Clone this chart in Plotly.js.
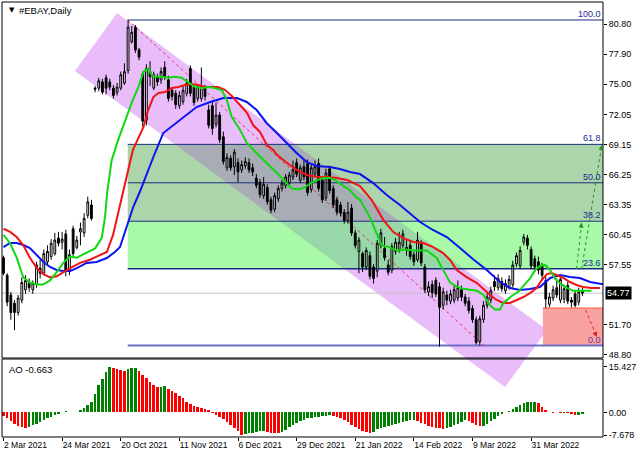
<!DOCTYPE html>
<html><head><meta charset="utf-8">
<script src="https://cdn.plot.ly/plotly-3.0.1.min.js"></script>
<style>html,body{margin:0;padding:0;background:#fff}#chart{width:640px;height:457px}</style>
</head><body><div id="chart"></div>
<script>
// ---------- DATA ----------
const dateTickIdx = [0,16,32,48,64,80,96,112,128,144];
const dateTickText = ['2 Mar 2021','24 Mar 2021','20 Oct 2021','11 Nov 2021','6 Dec 2021','29 Dec 2021','21 Jan 2022','14 Feb 2022','9 Mar 2022','31 Mar 2022'];
const priceTicks = [80.80,77.90,75.00,72.05,69.15,66.25,63.35,60.45,57.55,51.70,48.80];
const priceTickText = ['80.80','77.90','75.00','72.05','69.15','66.25','63.35','60.45','57.55','51.70','48.80'];
const aoTicks = [15.427,0,-7.678];
const aoTickText = ['15.427','0.00','-7.678'];

const open = [
58.2,56.5,54.6,53.8,52.9,54.1,55.1,55.8,55.1,55.6,
57.2,56.7,57.8,58.3,58.6,60.1,59.7,60.5,56.9,61.0,
59.2,60.7,60.6,62.3,63.3,74.6,74.6,75.2,75.6,75.2,
74.6,74.2,74.6,75.1,76.3,79.1,80.5,78.3,76.0,71.5,
76.2,74.6,75.7,75.4,76.6,75.4,74.4,74.1,72.9,73.3,
74.1,76.5,74.7,73.6,73.6,74.6,72.5,72.9,71.1,72.0,
69.9,66.9,67.8,67.0,67.4,66.7,67.1,67.4,66.9,65.9,
65.5,64.2,65.0,63.8,62.9,63.9,64.9,65.2,65.4,66.0,
67.4,65.7,67.0,67.3,64.8,66.3,67.3,65.7,64.0,66.8,
64.9,63.8,63.3,62.6,61.8,63.0,60.6,58.8,58.6,57.3,
58.4,57.3,56.9,59.4,59.1,57.5,57.0,58.8,59.0,59.4,
59.2,59.4,58.5,58.0,59.6,57.3,54.9,55.6,56.0,55.4,
53.6,54.6,54.0,54.1,54.3,55.1,54.4,54.0,53.3,52.2,
50.1,52.2,53.6,54.1,55.9,55.3,55.9,55.0,55.4,55.6,
57.6,57.4,59.7,60.1,59.0,58.1,57.8,57.4,56.0,53.7,
54.3,55.3,54.1,54.2,55.5,54.1,54.7,53.9,55.0];
const high = [
58.4,56.7,54.9,54.1,54.6,56.3,56.5,56.2,56.0,57.8,
58.0,59.0,59.4,60.0,60.6,60.7,60.7,60.9,59.0,61.3,
60.3,61.6,62.5,64.1,63.8,74.8,75.6,75.5,75.9,75.5,
74.9,75.1,76.2,77.0,81.19,80.6,80.7,78.5,76.2,76.9,
77.2,76.2,76.0,76.6,77.2,75.8,74.7,74.4,74.3,74.8,
75.5,76.8,75.0,75.0,76.6,74.9,73.0,73.3,73.2,72.3,
70.4,68.3,68.1,68.7,67.8,67.6,67.9,67.8,67.3,66.3,
65.8,66.0,65.3,64.1,64.5,65.2,65.7,66.3,66.5,67.6,
67.8,67.2,67.7,67.7,67.3,67.6,67.8,66.0,66.8,67.1,
65.2,64.1,63.6,62.9,63.6,63.4,60.9,60.2,58.8,59.2,
58.8,57.6,59.9,61.0,60.2,58.0,59.6,60.1,60.7,60.9,
59.9,59.8,58.8,60.7,59.9,57.6,55.9,56.0,56.3,55.8,
55.3,55.0,55.1,55.5,56.0,55.5,54.7,54.4,53.6,52.5,
52.6,54.0,54.8,55.4,56.5,56.6,56.3,56.1,56.5,57.9,
58.7,59.3,60.5,60.4,59.3,58.4,58.3,57.7,56.4,54.8,
55.5,56.2,56.5,55.6,55.9,54.4,55.0,55.3,55.3];
const low = [
56.5,53.5,52.2,51.2,52.6,53.8,54.7,54.9,54.7,55.3,
56.2,56.5,57.5,58.0,58.4,59.3,59.0,56.4,56.5,58.3,
59.0,59.4,60.2,62.0,61.8,74.2,74.3,74.0,74.0,74.4,
73.6,73.9,74.4,74.9,76.0,78.9,78.0,77.3,70.9,71.0,
74.8,74.4,74.8,75.0,75.4,73.3,73.4,72.6,72.6,73.0,
73.8,73.8,72.9,73.3,73.3,73.4,70.7,70.1,70.8,69.3,
67.2,66.6,66.6,66.2,65.5,66.4,66.8,66.4,66.1,64.9,
64.0,63.9,63.3,62.5,62.6,63.6,64.6,64.9,65.1,65.7,
66.0,65.4,65.7,64.2,64.5,66.0,64.6,63.5,63.7,64.4,
63.0,62.3,62.2,61.5,61.5,60.3,59.1,56.7,56.8,57.0,
56.1,55.7,56.3,59.1,57.9,56.5,56.7,58.5,58.7,59.1,
58.4,58.0,57.4,57.8,57.4,54.8,54.5,54.3,54.4,49.6,
53.2,53.6,53.7,53.8,54.0,54.0,53.5,52.8,51.9,49.8,
49.7,51.9,53.3,53.8,55.0,55.0,54.9,54.7,55.1,55.3,
57.3,57.1,59.4,59.0,57.1,56.8,56.6,56.0,53.33,53.4,
54.0,54.3,53.8,53.8,53.7,53.4,53.4,53.6,54.5];
const close = [
56.7,53.9,52.9,52.9,54.3,55.8,56.0,55.3,55.7,57.5,
56.7,58.6,58.8,59.6,59.9,59.6,60.0,57.0,58.5,58.6,
59.9,61.0,62.0,63.6,62.0,74.5,75.3,74.2,74.6,74.7,
73.9,74.7,75.9,76.2,80.5,80.0,78.3,77.6,71.4,76.5,
75.7,75.9,75.2,76.2,75.7,73.6,73.8,73.0,73.9,74.4,
75.1,74.1,73.2,74.7,74.8,73.8,71.0,70.7,72.0,69.6,
67.5,67.9,66.9,68.4,66.5,67.2,67.5,66.7,66.5,65.2,
64.3,65.3,63.6,62.8,64.2,64.9,65.4,66.0,66.2,66.7,
66.3,66.9,66.0,64.5,66.9,67.0,64.9,63.8,66.4,64.7,
63.3,62.6,62.5,61.8,62.6,60.6,59.4,59.9,57.3,58.9,
56.4,56.2,59.6,60.6,58.2,56.8,59.3,59.7,59.7,60.5,
58.9,58.3,57.8,59.9,57.7,55.1,55.4,54.8,54.7,53.4,
54.9,54.1,54.7,55.1,55.3,54.4,53.8,53.1,52.2,50.0,
52.3,53.6,54.4,55.0,55.4,56.2,55.2,55.7,56.1,57.5,
58.4,58.9,60.2,59.4,57.4,57.3,57.0,56.5,54.2,54.4,
55.1,54.6,56.1,55.2,54.0,53.9,53.6,54.9,54.77];

// Alligator-style moving averages (bar index, price)
const greenIdx = [0,1.8,3.6,5.4,7.2,9.1,10.8,12.7,14.5,16.3,18.1,20.0,22.7,25.0,26.8,27.7,28.3,29.5,31.3,33.2,35.0,36.8,38.2,39.5,40.4,41.3,43.2,45.0,46.8,48.6,50.4,52.3,54.1,55.9,57.7,59.6,60.9,62.3,64.5,66.4,69.1,71.8,74.6,77.3,78.7,80.5,82.3,83.7,85.5,87.3,89.1,90.5,92.7,94.6,96.4,97.3,100.0,101.9,103.2,105.5,107.3,110.0,112.3,115.5,118.2,120.0,121.9,123.7,125.5,127.3,129.2,131.0,132.3,132.8,134.1,135.5,136.4,137.3,138.7,140.5,142.3,143.7,145.1,146.4,147.8,149.2,150.5,151.9,153.7,155.5,157.3,160.5];
const greenVal = [60.4,59.6,58.2,56.3,55.8,55.6,55.6,56.0,56.8,57.7,58.3,58.2,58.7,59.1,60.1,62.1,64.5,67.6,69.6,71.5,73.2,74.7,76.2,76.5,75.9,75.7,75.7,75.6,75.7,75.6,75.2,74.7,74.6,74.7,74.6,74.4,73.5,71.8,70.6,69.3,68.3,67.4,66.4,65.4,64.9,64.8,65.0,65.4,65.7,65.9,65.9,65.7,65.2,64.7,64.0,63.8,62.1,60.6,59.4,59.2,58.9,59.0,58.9,58.9,58.2,57.0,55.8,55.4,55.2,55.1,55.0,54.6,53.8,53.6,53.2,53.2,53.8,54.1,54.5,54.9,55.6,56.2,57.0,57.4,57.5,57.0,56.2,55.7,55.3,55.0,55.0,55.0];
const redIdx = [0,1.8,3.6,5.4,7.2,9.1,10.9,12.7,14.5,16.3,18.2,20.9,23.6,25.4,28.2,29.9,31.8,33.6,35.3,38.2,39.5,40.9,42.3,44.1,45.9,47.7,49.5,51.4,53.2,55.0,56.8,58.6,60.5,62.6,66.5,68.1,70.0,71.9,73.6,74.7,77.4,80.1,82.8,85.6,88.3,91.0,93.8,97.3,100.5,103.7,106.4,109.1,111.9,114.6,117.3,120.0,121.9,123.7,126.4,129.2,132.8,134.6,136.4,138.2,140.1,141.9,143.7,145.5,146.9,148.3,149.6,151.0,152.8,154.6,156.4,158.2,160.5,162.8];
const redVal = [61.0,60.7,60.2,59.4,58.2,57.2,56.6,56.3,56.4,56.8,57.2,57.7,58.0,58.3,58.75,60.4,63.3,66.0,68.6,70.84,72.48,73.74,74.13,74.22,74.61,74.71,74.90,75.0,74.9,74.71,74.71,74.71,74.42,73.74,72.19,71.03,70.36,69.10,68.61,68.13,67.36,66.68,66.20,66.0,66.0,65.91,65.71,65.13,63.78,61.84,60.68,60.10,59.72,59.62,59.23,58.65,57.98,57.01,56.33,55.75,54.59,54.11,53.82,53.82,54.11,54.40,54.78,55.27,56.04,56.62,56.72,56.53,56.24,55.85,55.56,55.37,55.27,55.27];
const blueIdx = [0,1.8,3.6,5.4,7.2,9.1,10.9,12.7,14.5,16.3,18.2,20.0,22.7,25.4,28.2,30.4,31.8,33.6,35.4,37.3,39.2,40.9,43.6,46.3,49.1,52.7,56.4,60.0,63.7,66.4,69.1,71.8,74.6,77.3,80.0,82.8,85.5,89.1,91.8,94.6,97.3,100.9,104.6,108.2,113.7,117.2,121.0,124.6,128.1,131.9,135.5,138.2,141.0,143.7,146.4,149.2,151.9,154.6,157.3,160.1,162.8,166.0];
const blueVal = [59.23,59.62,59.62,59.43,59.14,58.46,57.78,57.30,57.01,56.91,56.91,57.20,57.69,57.78,58.17,58.75,59.23,61.17,63.10,64.65,66.49,67.94,70.26,71.03,71.81,72.77,73.26,73.64,73.64,73.26,72.48,71.23,70.26,69.29,68.32,67.45,67.07,66.97,66.78,66.49,66.29,65.42,64.26,63.30,61.65,60.88,60.20,59.14,58.07,57.01,55.85,55.27,55.07,55.17,55.37,56.24,56.53,56.33,56.24,55.85,55.66,55.5];

// Awesome Oscillator
const aoVal = [
-1.2,-2.0,-3.0,-4.0,-4.6,-5.0,-5.1,-4.8,-4.3,-3.8,
-3.2,-2.6,-2.0,-1.5,-1.0,-0.5,0.1,0.4,0.2,0.3,
0.2,1.0,1.6,2.4,3.5,6.4,9.2,11.5,13.6,15.427,
15.0,14.6,14.4,14.2,14.7,14.9,15.0,14.0,12.8,11.6,
10.4,9.3,8.5,8.7,8.8,8.0,7.4,6.6,5.7,4.8,
3.7,2.8,2.2,1.8,1.5,1.3,0.8,-0.3,-0.8,-1.4,
-2.2,-3.1,-4.2,-5.3,-6.2,-7.678,-7.3,-7.0,-6.8,-6.6,
-6.4,-6.3,-6.5,-6.8,-7.0,-7.1,-6.6,-5.9,-5.0,-4.2,
-3.5,-2.9,-2.4,-2.0,-1.8,-1.6,-1.4,-1.2,-1.1,-1.0,
-1.2,-1.5,-2.0,-2.6,-3.2,-4.2,-4.9,-5.5,-6.1,-6.6,
-7.0,-6.5,-5.7,-5.2,-4.8,-4.5,-4.2,-4.0,-3.7,-3.2,
-2.9,-2.6,-2.5,-3.0,-3.5,-4.0,-4.5,-4.9,-5.2,-5.4,
-5.5,-5.2,-4.9,-4.4,-3.8,-3.2,-2.6,-2.9,-3.5,-4.1,
-4.6,-4.5,-3.8,-3.0,-2.2,-1.2,-0.4,0.1,0.5,1.2,
2.0,2.6,3.1,3.4,3.5,3.6,3.1,2.0,0.9,0.3,
-0.1,0.0,-0.3,-0.2,-0.3,-0.6,-0.8,-0.7,-0.663];

// Drawn objects (data coords: bar index, price)
const fibHigh = 81.19, fibLow = 49.70, fibStartIdx = 33.9, fibEndIdx = 131.1;
const fibLevels = [100, 61.8, 50, 38.2, 23.6, 0];
const lastPrice = 54.77;
const channelCorners = [[19.51,76.25],[30.98,81.86],[148.34,51.21],[136.87,45.69]];
const redBoxStartIdx = 147.2, redBoxTop = 53.33;
const upArrow1 = [[156.4,57.13],[157.8,61.6]];
const upArrow2 = [[157.8,57.13],[163.3,69.1]];
const downArrow = [[158.9,53.14],[161.9,50.53]];

// ---------- CHART ----------
const bars = open.map((_, i) => i);
const xr = [-0.41, 163.62];
const yr = [48.50, 82.93];
const mainDom = [0.1816, 1];
const aoDom = [0, 0.1793];
const fibPrice = l => fibLow + (fibHigh - fibLow) * l / 100;

const toPX = i => (i - xr[0]) / (xr[1] - xr[0]);
const toPY = p => mainDom[0] + (p - yr[0]) / (yr[1] - yr[0]) * (mainDom[1] - mainDom[0]);

function clipPoly(poly, xmin, xmax, ymin, ymax) {
  const tests = [
    [p => p[0] >= xmin, (a, b) => { const t = (xmin - a[0]) / (b[0] - a[0]); return [xmin, a[1] + t * (b[1] - a[1])]; }],
    [p => p[0] <= xmax, (a, b) => { const t = (xmax - a[0]) / (b[0] - a[0]); return [xmax, a[1] + t * (b[1] - a[1])]; }],
    [p => p[1] >= ymin, (a, b) => { const t = (ymin - a[1]) / (b[1] - a[1]); return [a[0] + t * (b[0] - a[0]), ymin]; }],
    [p => p[1] <= ymax, (a, b) => { const t = (ymax - a[1]) / (b[1] - a[1]); return [a[0] + t * (b[0] - a[0]), ymax]; }]
  ];
  let out = poly;
  for (const [inside, inter] of tests) {
    const inp = out; out = [];
    for (let k = 0; k < inp.length; k++) {
      const cur = inp[k], prev = inp[(k + inp.length - 1) % inp.length];
      if (inside(cur)) { if (!inside(prev)) out.push(inter(prev, cur)); out.push(cur); }
      else if (inside(prev)) out.push(inter(prev, cur));
    }
  }
  return out;
}
const pathOf = pts => 'M' + pts.map(p => p[0] + ',' + p[1]).join('L') + 'Z';

const f618 = fibPrice(61.8), f382 = fibPrice(38.2), f236 = fibPrice(23.6), f0 = fibPrice(0);

const shapes = [];
shapes.push({type:'path', xref:'paper', yref:'paper', layer:'below',
  path: pathOf(channelCorners.map(c => [toPX(c[0]), toPY(c[1])])),
  fillcolor:'#e8bdf9', line:{width:0}});
shapes.push({type:'rect', xref:'x', yref:'y', layer:'below', x0:fibStartIdx, x1:xr[1], y0:f382, y1:f618, fillcolor:'#acd5ac', line:{width:0}});
shapes.push({type:'rect', xref:'x', yref:'y', layer:'below', x0:fibStartIdx, x1:xr[1], y0:f236, y1:f382, fillcolor:'#a8f9a8', line:{width:0}});
const ov1 = clipPoly(channelCorners, fibStartIdx, xr[1], f382, f618);
const ov2 = clipPoly(channelCorners, fibStartIdx, xr[1], f236, f382);
if (ov1.length > 2) shapes.push({type:'path', xref:'x', yref:'y', layer:'below', path:pathOf(ov1), fillcolor:'#a7acb5', line:{width:0}});
if (ov2.length > 2) shapes.push({type:'path', xref:'x', yref:'y', layer:'below', path:pathOf(ov2), fillcolor:'#98d7a8', line:{width:0}});
shapes.push({type:'rect', xref:'x', yref:'y', layer:'below', x0:redBoxStartIdx, x1:xr[1], y0:f0, y1:redBoxTop, fillcolor:'#f9a2a2', line:{width:0}});
shapes.push({type:'line', xref:'x', yref:'y', layer:'below', x0:redBoxStartIdx, x1:xr[1], y0:redBoxTop, y1:redBoxTop, line:{color:'#ff5a3c', width:1}});
fibLevels.forEach(l => {
  const p = fibPrice(l);
  shapes.push({type:'line', xref:'x', yref:'y', layer:'below', x0:fibStartIdx, x1:xr[1], y0:p, y1:p,
    line:{color: l === 0 ? '#6e6ec6' : '#1c2a80', width: l === 0 ? 2 : (l === 23.6 ? 1.5 : 1)}});
});
shapes.push({type:'line', xref:'x', yref:'y', layer:'below', x0:xr[0], x1:xr[1], y0:lastPrice, y1:lastPrice, line:{color:'#c4c4c4', width:1}});
shapes.push({type:'line', xref:'x', yref:'y', layer:'below', x0:fibStartIdx, x1:fibEndIdx, y0:fibHigh, y1:fibLow, line:{color:'#e8305c', width:1, dash:'3px,3px'}});
[[upArrow1,'#1c9a1c'],[upArrow2,'#1c9a1c'],[downArrow,'#e81c1c']].forEach(([a,c]) => {
  shapes.push({type:'line', xref:'x', yref:'y', x0:a[0][0], y0:a[0][1], x1:a[1][0], y1:a[1][1], line:{color:c, width:1, dash:'dot'}});
});
shapes.push({type:'rect', xref:'paper', yref:'paper', layer:'above', x0:0, x1:1, y0:mainDom[0], y1:mainDom[1], line:{color:'#000', width:1}, fillcolor:'rgba(0,0,0,0)'});
shapes.push({type:'rect', xref:'paper', yref:'paper', layer:'above', x0:0, x1:1, y0:aoDom[0], y1:aoDom[1], line:{color:'#000', width:1}, fillcolor:'rgba(0,0,0,0)'});

const annotations = [];
fibLevels.forEach(l => {
  annotations.push({xref:'paper', yref:'y', x:0.998, y:fibPrice(l), xanchor:'right', yanchor:'bottom',
    text:l.toFixed(1), showarrow:false, borderpad:0, font:{size:9, color: l === 0 ? '#5a3c96' : '#1c2a96'}});
});
annotations.push({xref:'paper', yref:'y', x:1, xshift:2, y:lastPrice, xanchor:'left', yanchor:'middle',
  text:'54.77', showarrow:false, bgcolor:'#000', borderpad:1, font:{size:9, color:'#fff'}});
annotations.push({xref:'paper', yref:'paper', x:0.008, y:0.9816, xanchor:'left', yanchor:'middle',
  text:'▼', showarrow:false, font:{family:'DejaVu Sans', size:7, color:'#000'}});
annotations.push({xref:'paper', yref:'paper', x:0.025, y:0.9816, xanchor:'left', yanchor:'middle',
  text:'#EBAY,Daily', showarrow:false, font:{size:9.5, color:'#000'}});
annotations.push({xref:'paper', yref:'paper', x:0.009, y:0.156, xanchor:'left', yanchor:'middle',
  text:'AO -0.663', showarrow:false, font:{size:9.5, color:'#000'}});
[[upArrow1,'#1c9a1c',-0.8,7],[upArrow2,'#1c9a1c',-1.1,7],[downArrow,'#e81c1c',-2.6,-6.5]].forEach(([a,c,ax,ay]) => {
  annotations.push({xref:'x', yref:'y', x:a[1][0], y:a[1][1], ax:ax, ay:ay, text:'', showarrow:true,
    arrowhead:2, arrowsize:1, arrowwidth:1, arrowcolor:c});
});

const traces = [
  {type:'candlestick', x:bars, open:open, high:high, low:low, close:close, xaxis:'x', yaxis:'y',
   increasing:{line:{color:'#000', width:1}, fillcolor:'rgba(255,255,255,0.45)'},
   decreasing:{line:{color:'#000', width:1}, fillcolor:'#000'},
   hoverinfo:'skip', showlegend:false},
  {type:'scatter', mode:'lines', x:blueIdx, y:blueVal, xaxis:'x', yaxis:'y', line:{color:'#0a14f0', width:2}, hoverinfo:'skip'},
  {type:'scatter', mode:'lines', x:redIdx, y:redVal, xaxis:'x', yaxis:'y', line:{color:'#f01414', width:2}, hoverinfo:'skip'},
  {type:'scatter', mode:'lines', x:greenIdx, y:greenVal, xaxis:'x', yaxis:'y', line:{color:'#10d810', width:2}, hoverinfo:'skip'},
  {type:'bar', x:bars, y:aoVal, xaxis:'x2', yaxis:'y2', width:0.7,
   marker:{color: aoVal.map((v, i) => (i > 0 && v > aoVal[i-1]) ? '#008000' : '#ff0000'), line:{width:0}},
   hoverinfo:'skip'}
];

const layout = {
  width:640, height:457,
  margin:{l:2, r:37, t:2, b:20, pad:0},
  paper_bgcolor:'#ffffff', plot_bgcolor:'rgba(0,0,0,0)',
  showlegend:false,
  font:{family:'Liberation Sans, Arial, sans-serif', size:9, color:'#000'},
  xaxis:{domain:[0,1], range:xr, anchor:'y', showticklabels:false, ticks:'', showgrid:false, zeroline:false, showline:false, rangeslider:{visible:false}, fixedrange:true},
  xaxis2:{domain:[0,1], range:xr, anchor:'y2', tickmode:'array', tickvals:dateTickIdx, ticktext:dateTickText, ticks:'outside', ticklen:3, tickcolor:'#000',
          tickangle:0, ticklabelposition:'outside right', showgrid:false, zeroline:false, showline:false, fixedrange:true, tickfont:{size:8.5}},
  yaxis:{domain:mainDom, range:yr, anchor:'x', side:'right', tickmode:'array', tickvals:priceTicks, ticktext:priceTickText, ticks:'outside', ticklen:3, tickcolor:'#000',
         showgrid:false, zeroline:false, showline:false, fixedrange:true, tickfont:{size:9}},
  yaxis2:{domain:aoDom, range:[-8.3, 18.1], anchor:'x2', side:'right', tickmode:'array', tickvals:aoTicks, ticktext:aoTickText, ticks:'outside', ticklen:3, tickcolor:'#000',
          showgrid:false, zeroline:false, showline:false, fixedrange:true, tickfont:{size:9}},
  bargap:0,
  shapes:shapes,
  annotations:annotations
};

Plotly.newPlot('chart', traces, layout, {staticPlot:true, displayModeBar:false});
</script>
</body></html>
